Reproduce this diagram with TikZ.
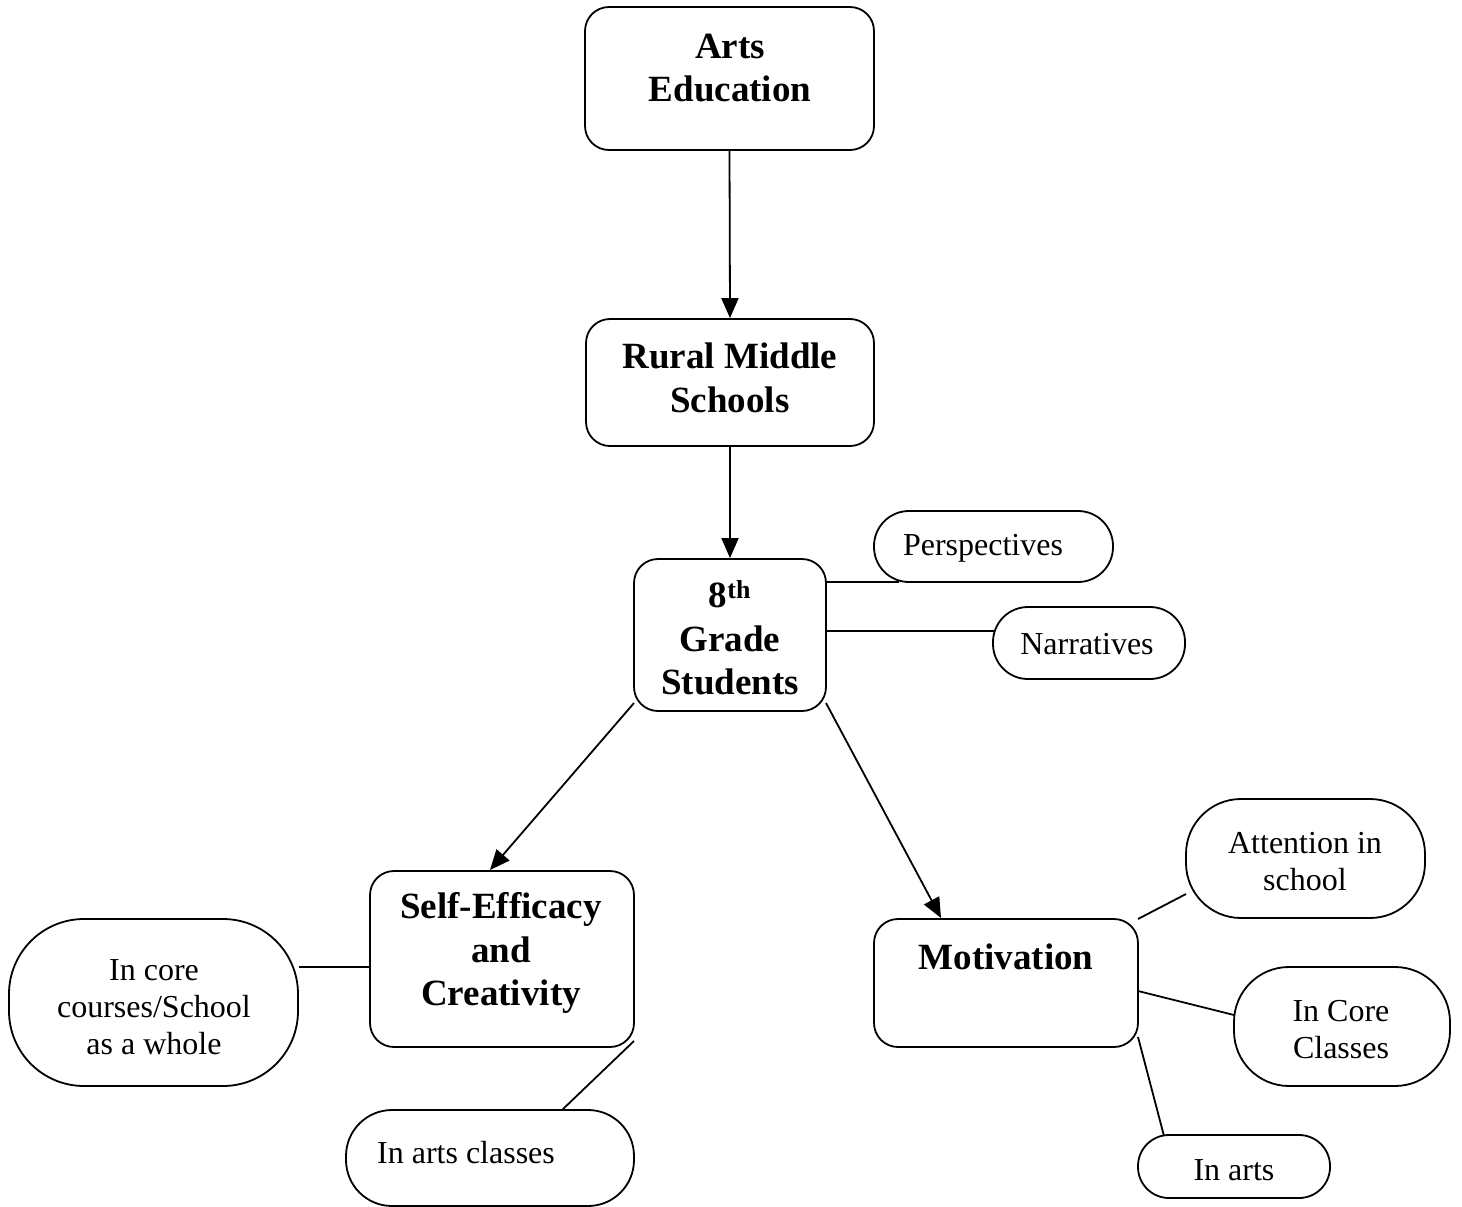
\documentclass[tikz,border=0pt]{standalone}
\usepackage{fontspec}
\setmainfont{Liberation Serif}
\usetikzlibrary{arrows.meta}
\begin{document}
\begin{tikzpicture}[x=1pt,y=-1pt,
  box/.style={draw, line width=1.8pt, rounded corners=24pt, inner sep=0pt},
  pill/.style={draw, line width=1.8pt, inner sep=0pt},
  btxt/.style={font=\bfseries\fontsize{37}{43.5}\selectfont, align=center, inner sep=0pt},
  rtxt/.style={font=\fontsize{32}{37}\selectfont, align=center, inner sep=0pt},
  conn/.style={line width=1.8pt},
  arr/.style={line width=1.8pt, -{Triangle[length=20pt,width=17pt]}}]
\useasboundingbox (0,0) rectangle (1462,1207);

% main boxes
\node[box, minimum width=289, minimum height=143] (ae) at (729.5,78.5) {};
\node[btxt] (aet) at (730,68) {Arts\\Education};
\node[box, minimum width=288, minimum height=127] (rms) at (730,382.5) {};
\node[btxt] (rmst) at (730,378) {Rural Middle\\Schools};
\node[box, minimum width=192, minimum height=152] (g) at (730,635) {};
\node[btxt] (gt) at (730,638) {8\textsuperscript{th}\\Grade\\Students};
\node[box, minimum width=264, minimum height=176] (se) at (502,959) {};
\node[btxt] (set) at (501,953) {Self-Efficacy\\and\\Creativity};
\node[box, minimum width=264, minimum height=128] (mo) at (1006,983) {};
\node[btxt] (mot) at (1006,957) {Motivation};

% pills
\node[pill, rounded corners=35pt, minimum width=239, minimum height=71] (per) at (993.5,546.5) {};
\node[rtxt] (pert) at (983,548) {Perspectives};
\node[pill, rounded corners=35pt, minimum width=192, minimum height=72] (nar) at (1089,643) {};
\node[rtxt] (nart) at (1087,644) {Narratives};
\node[pill, rounded corners=75pt, minimum width=289, minimum height=167] (core) at (153.5,1002.5) {};
\node[rtxt] (coret) at (154,1007) {In core\\courses/School\\as a whole};
\node[pill, rounded corners=46pt, minimum width=288, minimum height=96] (arts) at (490,1158) {};
\node[rtxt] (artst) at (466,1153) {In arts classes};
\node[pill, rounded corners=55pt, minimum width=239, minimum height=119] (att) at (1305.5,858.5) {};
\node[rtxt] (attt) at (1305,862) {Attention in\\school};
\node[pill, rounded corners=55pt, minimum width=216, minimum height=119] (cc) at (1342,1026.5) {};
\node[rtxt] (cct) at (1341,1030) {In Core\\Classes};
\node[pill, rounded corners=31pt, minimum width=192, minimum height=63] (ia) at (1234,1166.5) {};
\node[rtxt] (iat) at (1234,1170) {In arts};

% arrows
\draw[arr] (ae.south) -- (rms.north);
\draw[arr] (rms.south) -- (g.north);
\coordinate (g1) at (634,703);
\coordinate (se1) at (490,870);
\draw[arr] (g1) -- (se1);
\coordinate (g2) at (826,703);
\coordinate (mo1) at (941,918);
\draw[arr] (g2) -- (mo1);

% plain connectors
\coordinate (p1) at (826,582);
\coordinate (p2) at (899,582);
\draw[conn] (p1) -- (p2);
\coordinate (n1) at (826,631);
\coordinate (n2) at (994,631);
\draw[conn] (n1) -- (n2);
\draw[conn] (core.east |- 0,967) -- (se.west |- 0,967);
\coordinate (s1) at (634,1041);
\coordinate (s2) at (562,1110);
\draw[conn] (s1) -- (s2);
\coordinate (m1) at (1138,919);
\coordinate (m2) at (1186,894);
\draw[conn] (m1) -- (m2);
\coordinate (m3) at (1138,991);
\coordinate (m4) at (1234,1015);
\draw[conn] (m3) -- (m4);
\coordinate (m5) at (1138,1037);
\coordinate (m6) at (1164,1136);
\draw[conn] (m5) -- (m6);
\end{tikzpicture}
\end{document}
